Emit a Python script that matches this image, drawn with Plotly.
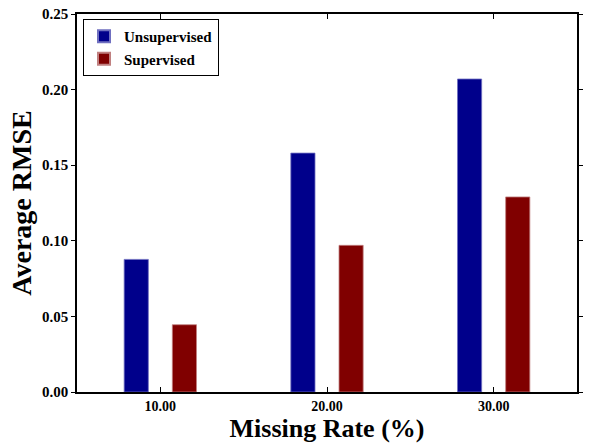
import plotly.graph_objects as go

missing_rate = [10, 20, 30]
tick_labels = ["10.00", "20.00", "30.00"]
unsupervised = [0.0877, 0.158, 0.207]
supervised = [0.0445, 0.097, 0.129]

FONT = "Liberation Serif"

fig = go.Figure()
fig.add_trace(go.Bar(
    x=missing_rate, y=unsupervised, name="<b>Unsupervised</b>",
    width=1.45, offset=-2.17,
    marker=dict(color="#00008B", line=dict(color="#6f6fc0", width=0.8)),
))
fig.add_trace(go.Bar(
    x=missing_rate, y=supervised, name="<b>Supervised</b>",
    width=1.45, offset=0.72,
    marker=dict(color="#800000", line=dict(color="#c08080", width=0.8)),
))

fig.update_layout(
    width=589, height=443,
    margin=dict(l=77, r=6, t=13, b=50),
    paper_bgcolor="white", plot_bgcolor="white",
    font=dict(family=FONT, color="black"),
    barmode="overlay",
    showlegend=True,
    legend=dict(
        x=0.012, y=0.987, xanchor="left", yanchor="top",
        bgcolor="white", bordercolor="black", borderwidth=1,
        font=dict(family=FONT, size=15, color="black"),
        tracegroupgap=0, itemsizing="constant",
    ),
)
fig.update_xaxes(
    range=[5, 35], tickvals=missing_rate, ticktext=["<b>%s</b>" % t for t in tick_labels],
    tickfont=dict(family=FONT, size=14),
    ticks="inside", ticklen=5, tickcolor="black",
    showline=True, linecolor="black", linewidth=1.5, mirror="ticks",
    showgrid=False, zeroline=False,
    title=dict(text="<b>Missing Rate (%)</b>", font=dict(family=FONT, size=26), standoff=5),
)
fig.update_yaxes(
    range=[0, 0.25], tickvals=[0, 0.05, 0.10, 0.15, 0.20, 0.25],
    ticktext=["<b>0.00</b>", "<b>0.05</b>", "<b>0.10</b>", "<b>0.15</b>", "<b>0.20</b>", "<b>0.25</b>"],
    tickfont=dict(family=FONT, size=15),
    ticks="outside", ticklen=4, tickcolor="black",
    showline=True, linecolor="black", linewidth=1.5, mirror="ticks",
    showgrid=False, zeroline=False,
    title=dict(text="<b>Average RMSE</b>", font=dict(family=FONT, size=28), standoff=2),
)

fig.write_html("out.html", config={"displayModeBar": False},
               post_script="document.body.style.margin='0';")
